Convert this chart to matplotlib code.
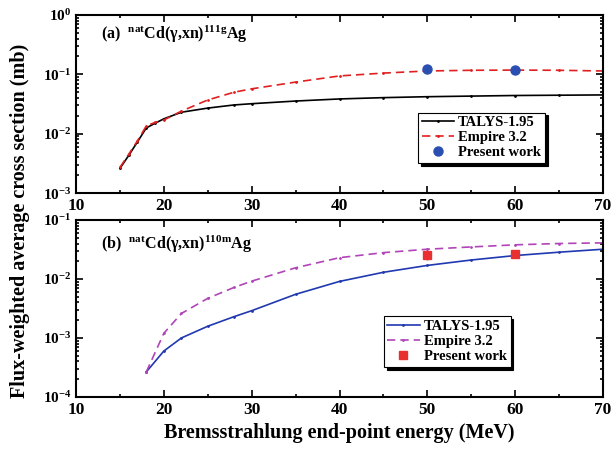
import math
import matplotlib
matplotlib.use("Agg")
import matplotlib.pyplot as plt
from matplotlib.ticker import FuncFormatter, LogLocator, NullFormatter, MultipleLocator

plt.rcParams['font.family'] = ['Liberation Serif', 'DejaVu Serif']
plt.rcParams['font.weight'] = 'bold'
plt.rcParams['mathtext.fontset'] = 'custom'
plt.rcParams['mathtext.rm'] = 'Liberation Serif:bold'
plt.rcParams['mathtext.bf'] = 'Liberation Serif:bold'
plt.rcParams['mathtext.it'] = 'Liberation Serif:bold'

# (a) natCd(g,xn)111gAg
e_a = [15, 16, 17, 18, 19, 20, 22, 25, 28, 30, 35, 40, 45, 50, 55, 60, 65, 70]
talys_a = [2.6e-3, 4.3e-3, 7.3e-3, 1.25e-2, 1.5e-2, 1.78e-2, 2.3e-2, 2.7e-2, 3.05e-2,
           3.2e-2, 3.55e-2, 3.85e-2, 4.05e-2, 4.2e-2, 4.3e-2, 4.4e-2, 4.45e-2, 4.5e-2]
empire_a = [2.7e-3, 4.5e-3, 7.6e-3, 1.35e-2, 1.55e-2, 1.7e-2, 2.4e-2, 3.7e-2, 5.0e-2,
            5.7e-2, 7.4e-2, 9.4e-2, 0.105, 0.114, 0.117, 0.118, 0.117, 0.114]
exp_e_a = [50, 60]
exp_a = [0.123, 0.12]
exp_err_a = [0.012, 0.01]

# (b) natCd(g,xn)110mAg
e_b = [18, 20, 22, 25, 28, 30, 35, 40, 45, 50, 55, 60, 65, 70]
talys_b = [2.65e-4, 6.0e-4, 1.0e-3, 1.58e-3, 2.3e-3, 2.9e-3, 5.5e-3, 9.1e-3, 1.3e-2,
           1.7e-2, 2.1e-2, 2.5e-2, 2.85e-2, 3.2e-2]
empire_b = [2.65e-4, 1.2e-3, 2.6e-3, 4.7e-3, 7.2e-3, 9.2e-3, 1.55e-2, 2.3e-2, 2.8e-2,
            3.2e-2, 3.5e-2, 3.8e-2, 4.0e-2, 4.1e-2]
exp_e_b = [50, 60]
exp_b = [2.6e-2, 2.65e-2]
exp_err_b = [5e-3, 3.5e-3]

fig = plt.figure(figsize=(6.11, 4.5), dpi=100)
ax1 = fig.add_axes([0.1244, 0.571, 0.8626, 0.3957])
ax2 = fig.add_axes([0.1244, 0.118, 0.8626, 0.393])


def dec_fmt(v, pos):
    p = int(round(math.log10(v)))
    return r'$\mathbf{10^{%d}}$' % p


def style(ax, ylo, yhi):
    ax.set_xlim(10, 70)
    ax.set_yscale('log')
    ax.set_ylim(ylo, yhi)
    ax.xaxis.set_major_locator(MultipleLocator(10))
    ax.xaxis.set_minor_locator(MultipleLocator(5))
    ax.yaxis.set_major_locator(LogLocator(base=10, numticks=10))
    ax.yaxis.set_minor_locator(LogLocator(base=10, subs=range(2, 10), numticks=20))
    ax.yaxis.set_major_formatter(FuncFormatter(dec_fmt))
    ax.yaxis.set_minor_formatter(NullFormatter())
    ax.tick_params(which='both', direction='in', top=True, right=True, width=1.2)
    ax.tick_params(axis='x', labelsize=12.5)
    ax.tick_params(axis='y', labelsize=11)
    ax.tick_params(which='major', length=5)
    ax.tick_params(which='minor', length=2.5)
    for s in ax.spines.values():
        s.set_linewidth(1.5)
    for lab in ax.get_xticklabels():
        lab.set_fontweight('bold')


style(ax1, 1e-3, 1)
style(ax2, 1e-4, 1e-1)

ax1.plot(e_a, talys_a, color='black', lw=1.2, marker='o', ms=1.0, label='TALYS-1.95')
ax1.plot(e_a, empire_a, color='#e02020', lw=1.2, ls=(0, (5, 3)), marker='o', ms=1.0,
         label='Empire 3.2')
ax1.errorbar(exp_e_a, exp_a, yerr=exp_err_a, fmt='none', ecolor='#2a4fb0',
             elinewidth=1, capsize=0)
ax1.plot(exp_e_a, exp_a, 'o', color='#2a4fb0', ms=6.5, label='Present work')

ax2.plot(e_b, talys_b, color='#2038b0', lw=1.2, marker='o', ms=1.0, label='TALYS-1.95')
ax2.plot(e_b, empire_b, color='#b044b8', lw=1.2, ls=(0, (5, 3)), marker='o', ms=1.0,
         label='Empire 3.2')
ax2.errorbar(exp_e_b, exp_b, yerr=exp_err_b, fmt='none', ecolor='#777777',
             elinewidth=1, capsize=0)
ax2.plot(exp_e_b, exp_b, 's', color='#e83030', ms=6, label='Present work')

ax1.text(0.047, 0.865, r'(a)  $^{\mathbf{nat}}$Cd(γ,xn)$^{\mathbf{111g}}$Ag',
         transform=ax1.transAxes, fontsize=11.5, fontweight='bold')
ax2.text(0.047, 0.835, r'(b)  $^{\mathbf{nat}}$Cd(γ,xn)$^{\mathbf{110m}}$Ag',
         transform=ax2.transAxes, fontsize=11.5, fontweight='bold')

shadow = {'color': 'black', 'alpha': 1.0}
for ax, loc in ((ax1, (0.649, 0.169)), (ax2, (0.584, 0.17))):
    leg = ax.legend(loc='lower left', bbox_to_anchor=loc, borderaxespad=0, frameon=True,
                    fancybox=False, shadow=shadow, handlelength=2.2, handletextpad=0.3,
                    borderpad=0.25, labelspacing=0.12,
                    prop={'weight': 'bold', 'size': 10.5})
    leg.get_frame().set_edgecolor('black')
    leg.get_frame().set_linewidth(0.8)

fig.text(0.032, 0.51, 'Flux-weighted average cross section (mb)', rotation=90,
         ha='center', va='center', fontsize=14.5, fontweight='bold')
fig.text(0.555, 0.038, 'Bremsstrahlung end-point energy (MeV)', ha='center', va='center',
         fontsize=14.5, fontweight='bold')

fig.savefig('out.png', dpi=100)
